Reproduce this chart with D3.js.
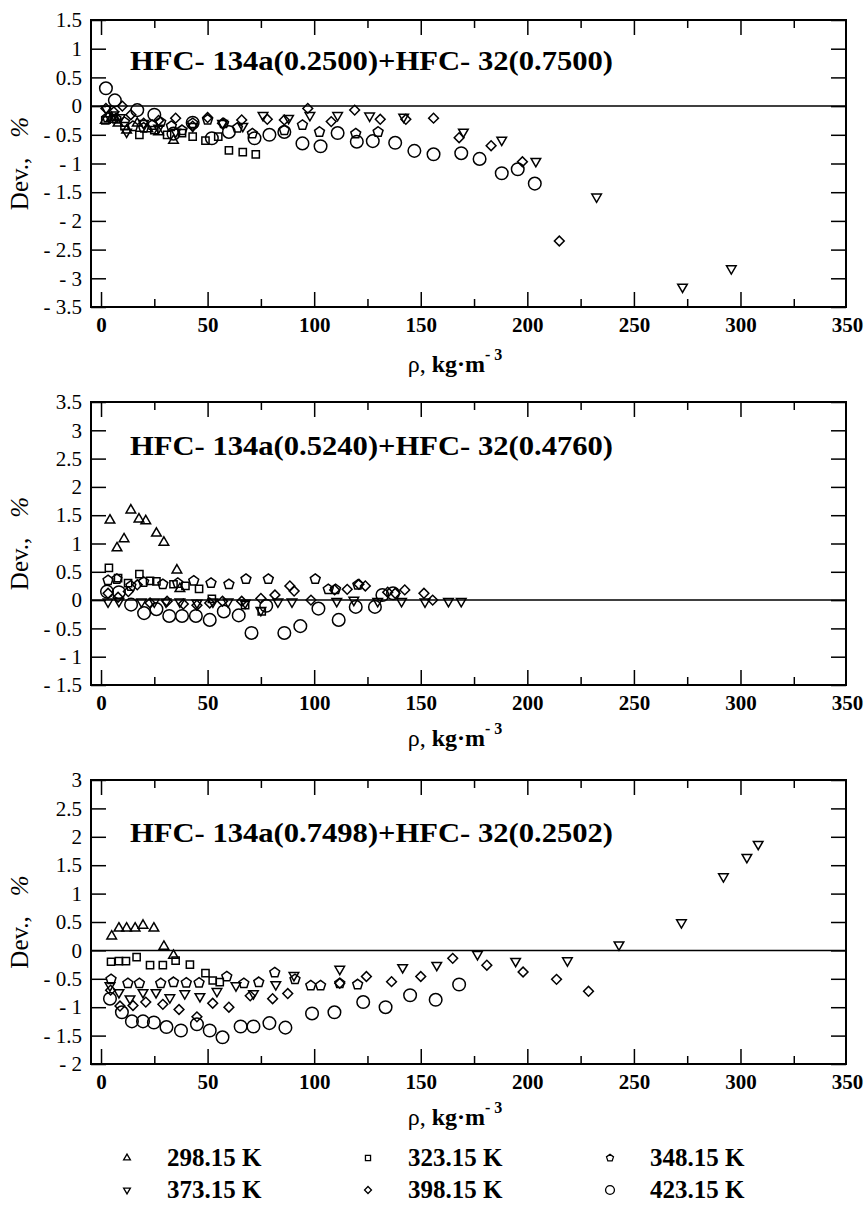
<!DOCTYPE html>
<html>
<head>
<meta charset="utf-8">
<script src="https://cdn.jsdelivr.net/npm/d3@7"></script>
<style>
  body { margin: 0; background: #fff; }
  svg { display: block; }
</style>
</head>
<body>
<svg id="chart" width="864" height="1207"></svg>
<script>
// temperatures (legend) and mixture compositions (panel titles)
const temps = ['298.15  K', '323.15  K', '348.15  K', '373.15  K', '398.15  K', '423.15  K']
const titles = [
  'HFC- 134a(0.2500)+HFC- 32(0.7500)',
  'HFC- 134a(0.5240)+HFC- 32(0.4760)',
  'HFC- 134a(0.7498)+HFC- 32(0.2502)'
]
const xTicks = [0, 50, 100, 150, 200, 250, 300, 350]

// panel 1 : [rho, dev %]
const p1T298 = [[2, -0.25], [5, -0.2], [8, -0.3], [12, -0.42], [17, -0.3], [22, -0.4], [27, -0.45], [34, -0.6]]
const p1T323 = [[2, -0.25], [6, -0.22], [11, -0.35], [18, -0.5], [25, -0.42], [31, -0.5], [38, -0.47], [43, -0.53],
  [49, -0.6], [55, -0.53], [60, -0.77], [66.5, -0.8], [72.6, -0.84]]
const p1T348 = [[3, -0.2], [7, -0.22], [11, -0.28], [15, -0.35], [20, -0.38], [24, -0.33], [28, -0.28], [33, -0.35],
  [38, -0.42], [43, -0.3], [50, -0.24], [57.5, -0.3], [64, -0.38], [71, -0.48], [86, -0.42], [94.5, -0.33],
  [102.5, -0.45], [119.5, -0.48], [130, -0.45]]
const p1T373 = [[2.5, -0.05], [6, -0.15], [9, -0.2], [12, -0.45], [20, -0.3], [27, -0.38], [35, -0.45], [43, -0.35],
  [57, -0.3], [66.5, -0.35], [76, -0.16], [88, -0.21], [98, -0.16], [111, -0.16], [126, -0.17], [142, -0.19],
  [170, -0.45], [188, -0.59], [204, -0.96], [232.5, -1.58], [272.8, -3.15], [295.7, -2.83]]
const p1T398 = [[2.3, -0.04], [6, -0.1], [10, 0.0], [14, -0.15], [20, -0.3], [27, -0.25], [35, -0.21], [43, -0.35],
  [50, -0.2], [57, -0.3], [66, -0.24], [78, -0.23], [86, -0.24], [97, -0.04], [108, -0.27], [119, -0.07],
  [131, -0.23], [143, -0.23], [156, -0.21], [168, -0.55], [183, -0.69], [197.7, -0.97], [215, -2.35]]
const p1T423 = [[2.3, 0.31], [6.5, 0.1], [17, -0.07], [25, -0.15], [34, -0.48], [43, -0.29], [52, -0.56], [60, -0.45],
  [72, -0.56], [79, -0.5], [86, -0.45], [94.5, -0.65], [103, -0.7], [111, -0.47], [120, -0.62], [127.5, -0.61],
  [138, -0.64], [147, -0.78], [156, -0.84], [169, -0.82], [177.6, -0.92], [188, -1.17], [195.5, -1.1], [203.5, -1.35]]

// panel 2
const p2T298 = [[4.2, 1.41], [7.5, 0.92], [10.8, 1.08], [14, 1.59], [17.8, 1.43], [21, 1.4], [26, 1.18], [29.5, 1.02],
  [35.6, 0.53], [37, 0.2]]
const p2T323 = [[3.7, 0.57], [8, 0.39], [12.7, 0.3], [18, 0.46], [23, 0.34], [26, 0.33], [34, 0.28], [39.6, 0.25],
  [46, 0.2], [52, 0.02], [67.6, -0.09], [75.4, -0.2]]
const p2T348 = [[3.3, 0.35], [7.4, 0.37], [14, 0.25], [20, 0.32], [29, 0.28], [36, 0.3], [43.5, 0.34], [51.6, 0.3],
  [60, 0.28], [68, 0.37], [78.5, 0.37], [100.5, 0.37], [106.6, 0.19], [110, 0.19], [120.5, 0.27]]
const p2T373 = [[3.3, -0.03], [8.4, -0.02], [19, -0.03], [25, -0.03], [30.5, -0.03], [37, -0.03], [45, -0.05],
  [52.5, -0.03], [59.6, -0.03], [67.6, -0.05], [75, -0.18], [83, -0.03], [89.6, -0.03], [110.6, -0.02],
  [118.6, 0], [129.8, -0.02], [141, -0.02], [152, -0.03], [163, -0.02], [169, -0.02]]
const p2T398 = [[3.3, 0.12], [8, 0.05], [12.8, 0.15], [17, 0.27], [23, -0.05], [31, -0.02], [38.6, -0.07], [45, -0.09],
  [51, -0.05], [57, -0.02], [66, -0.02], [75, 0.03], [81.6, 0.09], [88.6, 0.25], [90.6, 0.16], [98.5, 0.0],
  [109.6, 0.18], [115.5, 0.19], [121, 0.28], [124, 0.25], [134.5, 0.14], [138, 0.12], [142.5, 0.18],
  [151.5, 0.12], [155.6, 0.0]]
const p2T423 = [[2.8, 0.15], [8.4, 0.14], [14.1, -0.08], [20.2, -0.23], [26, -0.16], [32, -0.28], [38, -0.28],
  [44.5, -0.28], [51, -0.35], [57.6, -0.2], [64.6, -0.27], [70.6, -0.58], [77.5, -0.1], [86, -0.58], [93.5, -0.46],
  [102, -0.15], [111.5, -0.35], [119.5, -0.12], [128.5, -0.12], [132, 0.09], [137, 0.12]]

// panel 3
const p3T298 = [[5, 0.25], [8.4, 0.39], [12, 0.39], [16, 0.39], [19.7, 0.44], [24.8, 0.39], [29.5, 0.07], [34, -0.09]]
const p3T323 = [[4.7, -0.2], [8.4, -0.19], [11.7, -0.19], [16.7, -0.12], [23, -0.26], [29, -0.26], [35, -0.18],
  [41.7, -0.25], [49, -0.4], [52.4, -0.53], [55.7, -0.56]]
const p3T348 = [[4.7, -0.51], [12.6, -0.58], [18, -0.58], [28, -0.58], [34, -0.56], [40, -0.57], [46, -0.57],
  [59, -0.46], [67, -0.58], [74, -0.56], [81.5, -0.39], [91, -0.51], [98.4, -0.62], [103, -0.62], [112, -0.58],
  [120.4, -0.6]]
const p3T373 = [[4.2, -0.62], [8.4, -0.74], [13.6, -0.85], [19.7, -0.74], [25.8, -0.74], [32.3, -0.83], [39.3, -0.76],
  [46.4, -0.81], [54.4, -0.72], [63.3, -0.62], [71.5, -0.76], [82, -0.6], [90.5, -0.44], [112, -0.33],
  [141.5, -0.3], [157.5, -0.26], [176.6, -0.07], [194.5, -0.19], [218.8, -0.18], [243, 0.1], [272.3, 0.49],
  [292, 1.3], [303, 1.64], [308.3, 1.87]]
const p3T398 = [[4.5, -0.7], [8.9, -0.98], [15, -0.97], [21, -0.91], [29, -0.95], [36.6, -1.04], [45, -1.17],
  [52.4, -0.93], [60, -1.0], [70, -0.8], [80.5, -0.85], [87.6, -0.76], [112, -0.58], [124.5, -0.46],
  [136.3, -0.55], [150, -0.46], [165, -0.14], [181, -0.26], [198, -0.38], [213.7, -0.51], [228.7, -0.72]]
const p3T423 = [[4.2, -0.85], [9.8, -1.09], [14.5, -1.25], [19.7, -1.25], [24.8, -1.27], [30.7, -1.35], [37.5, -1.41],
  [45, -1.3], [51, -1.41], [57, -1.53], [65.5, -1.34], [71.5, -1.34], [79, -1.28], [86.5, -1.36], [99, -1.11],
  [109.5, -1.09], [123, -0.91], [133.5, -1.0], [145, -0.79], [157, -0.87], [168, -0.6]]

const panels = [
  { yDomain: [-3.5, 1.5], top: 20, bottom: 307, titleY: 70, xTitleY: 372, series: [p1T298, p1T323, p1T348, p1T373, p1T398, p1T423] },
  { yDomain: [-1.5, 3.5], top: 402, bottom: 685, titleY: 455, xTitleY: 746, series: [p2T298, p2T323, p2T348, p2T373, p2T398, p2T423] },
  { yDomain: [-2, 3], top: 780, bottom: 1064, titleY: 842, xTitleY: 1125, series: [p3T298, p3T323, p3T348, p3T373, p3T398, p3T423] }
]

const left = 91
const right = 846
const SERIF = '"Liberation Serif"'

// pentagon symbol for 348.15 K
const symbolPentagon = {
  draw(ctx, size) {
    const r = Math.sqrt(size / 2.378)
    for (let i = 0; i < 5; i++) {
      const a = -Math.PI / 2 + (i * 2 * Math.PI) / 5
      const px = r * Math.cos(a)
      const py = r * Math.sin(a)
      if (i === 0) ctx.moveTo(px, py)
      else ctx.lineTo(px, py)
    }
    ctx.closePath()
  }
}

// one entry per temperature: path generator + rotation
const markers = [
  { type: d3.symbolTriangle, size: 40, rot: 0 },
  { type: d3.symbolSquare, size: 52, rot: 0 },
  { type: symbolPentagon, size: 64, rot: 0 },
  { type: d3.symbolTriangle, size: 40, rot: 180 },
  { type: d3.symbolSquare, size: 48, rot: 45 },
  { type: d3.symbolCircle, size: 124, rot: 0 }
]

const svg = d3.select('#chart')
const x = d3.scaleLinear().domain([-4.7, 349.5]).range([left, right])

const fmt = d => (d < 0 ? '- ' + Math.abs(d) : String(d))

panels.forEach((p, idx) => {
  const y = d3.scaleLinear().domain(p.yDomain).range([p.bottom, p.top])
  const g = svg.append('g')
  const yVals = d3.range(p.yDomain[0] * 2, p.yDomain[1] * 2 + 1).map(d => d / 2)
  const majors = xTicks.filter(d => d < 350)
  const minors = d3.range(25, 350, 50)

  // left axis with labels
  g.append('g')
    .attr('transform', `translate(${left},0)`)
    .call(d3.axisLeft(y).tickValues(yVals).tickSize(-15).tickSizeOuter(0).tickPadding(9).tickFormat(fmt))
    .call(a => a.select('.domain').remove())
    .call(a => a.selectAll('text').style('font-size', '21px').style('font-family', SERIF))
  // right axis, ticks only
  g.append('g')
    .attr('transform', `translate(${right},0)`)
    .call(d3.axisRight(y).tickValues(yVals).tickSize(-15).tickSizeOuter(0).tickFormat(''))
    .call(a => a.select('.domain').remove())

  // bottom axis
  g.append('g')
    .attr('transform', `translate(0,${p.bottom})`)
    .call(d3.axisBottom(x).tickValues(xTicks).tickSize(-15).tickSizeOuter(0).tickPadding(10).tickFormat(d3.format('d')))
    .call(a => a.select('.domain').remove())
    .call(a => a.selectAll('.tick').filter(d => d === 350).select('line').remove())
    .call(a => a.selectAll('text').style('font-size', '21px').style('font-weight', 'bold').style('font-family', SERIF))
  g.append('g')
    .attr('transform', `translate(0,${p.bottom})`)
    .call(d3.axisBottom(x).tickValues(minors).tickSize(-8).tickSizeOuter(0).tickFormat(''))
    .call(a => a.select('.domain').remove())
  // top axis
  g.append('g')
    .attr('transform', `translate(0,${p.top})`)
    .call(d3.axisTop(x).tickValues(majors).tickSize(-15).tickSizeOuter(0).tickFormat(''))
    .call(a => a.select('.domain').remove())
  g.append('g')
    .attr('transform', `translate(0,${p.top})`)
    .call(d3.axisTop(x).tickValues(minors).tickSize(-8).tickSizeOuter(0).tickFormat(''))
    .call(a => a.select('.domain').remove())

  g.selectAll('.tick line').attr('stroke', '#000').attr('stroke-width', 1.5)

  // frame
  g.append('rect')
    .attr('x', left).attr('y', p.top)
    .attr('width', right - left).attr('height', p.bottom - p.top)
    .attr('fill', 'none').attr('stroke', '#000').attr('stroke-width', 2)

  // zero line
  g.append('line')
    .attr('x1', left).attr('x2', right)
    .attr('y1', y(0)).attr('y2', y(0))
    .attr('stroke', '#000').attr('stroke-width', 1.5)

  // points
  p.series.forEach((s, i) => {
    const m = markers[i]
    const sym = d3.symbol().type(m.type).size(m.size)
    g.append('g')
      .selectAll('path')
      .data(s)
      .enter()
      .append('path')
      .attr('d', sym)
      .attr('transform', d => `translate(${x(d[0])},${y(d[1])}) rotate(${m.rot})`)
      .attr('fill', 'none')
      .attr('stroke', '#000')
      .attr('stroke-width', 1.5)
  })

  // panel title
  g.append('text')
    .attr('x', 130).attr('y', p.titleY)
    .attr('textLength', 483).attr('lengthAdjust', 'spacingAndGlyphs')
    .style('font-family', SERIF).style('font-size', '28px').style('font-weight', 'bold')
    .text(titles[idx])

  // y title
  const cy = (p.top + p.bottom) / 2
  const yt = g.append('text')
    .attr('transform', `translate(28,${cy}) rotate(-90)`)
    .attr('text-anchor', 'middle')
    .style('font-family', SERIF).style('font-size', '25px')
  yt.append('tspan').text('Dev.,')
  yt.append('tspan').attr('dx', 20).style('font-style', 'italic').text('%')

  // x title
  const xt = g.append('text')
    .attr('x', 455).attr('y', p.xTitleY)
    .attr('text-anchor', 'middle')
    .style('font-family', SERIF).style('font-size', '24px')
  xt.append('tspan').text('ρ,  ')
  xt.append('tspan').style('font-weight', 'bold').text('kg·m')
  xt.append('tspan').attr('dy', -12).style('font-size', '16px').style('font-weight', 'bold').text('- 3')
})

// legend
const legX = [127, 368, 610]
const legY = [1158, 1190]
temps.forEach((t, i) => {
  const col = i % 3
  const row = Math.floor(i / 3)
  const m = markers[i]
  svg.append('path')
    .attr('d', d3.symbol().type(m.type).size(m.size * 0.5)())
    .attr('transform', `translate(${legX[col]},${legY[row]}) rotate(${m.rot})`)
    .attr('fill', 'none').attr('stroke', '#000').attr('stroke-width', 1.3)
  svg.append('text')
    .attr('x', legX[col] + 40).attr('y', legY[row] + 8)
    .style('font-family', SERIF).style('font-size', '25px').style('font-weight', 'bold')
    .text(t)
})
</script>
</body>
</html>
